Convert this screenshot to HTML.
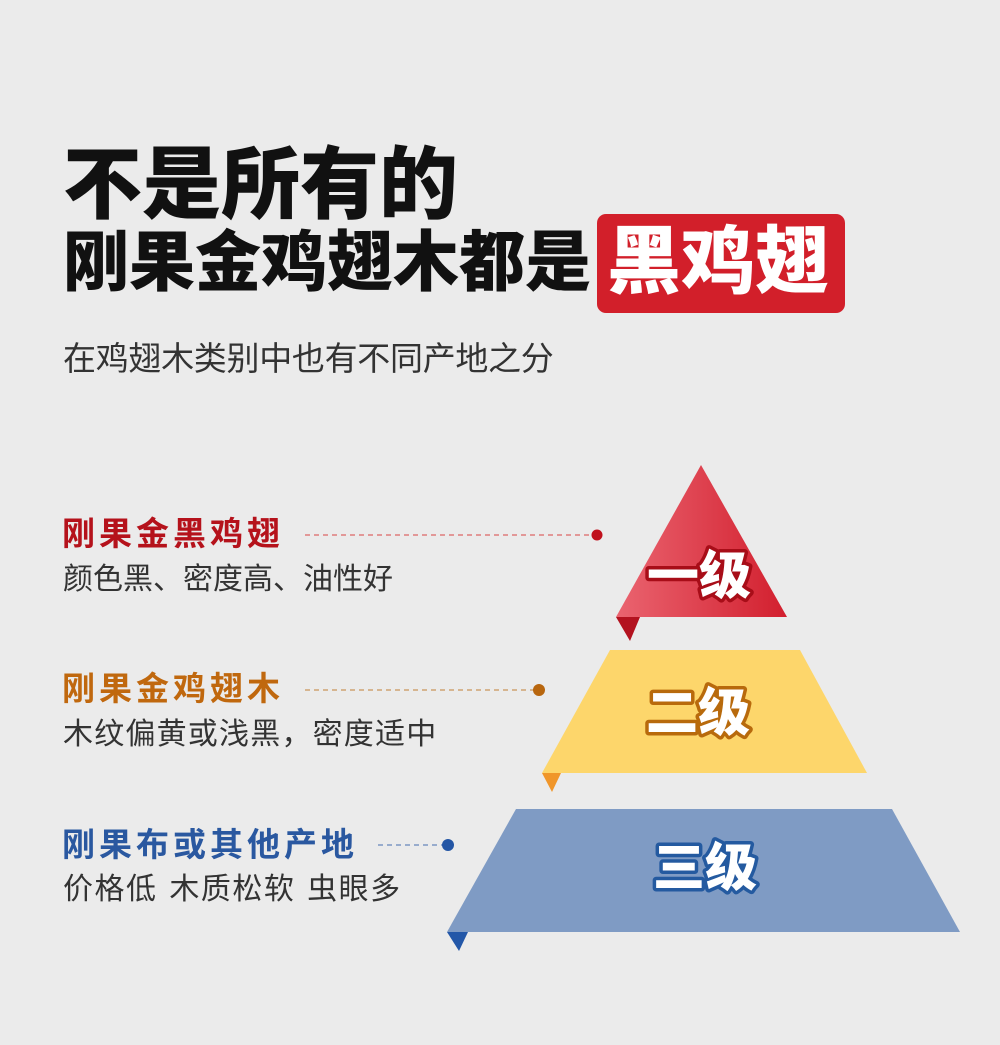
<!DOCTYPE html>
<html><head><meta charset="utf-8"><style>
html,body{margin:0;padding:0}
body{width:1000px;height:1045px;background:#ebebeb;position:relative;overflow:hidden;font-family:"Liberation Sans","Noto Sans CJK SC",sans-serif}
.t{position:absolute;white-space:nowrap;line-height:1}
</style></head><body>
<div class="t" style="left:63px;top:145px;font-size:79px;font-weight:900;color:#111;letter-spacing:0px">不是所有的</div>
<div class="t" style="left:63px;top:229px;font-size:66px;font-weight:900;color:#111">刚果金鸡翅木都是</div>
<div style="position:absolute;left:597px;top:214px;width:248px;height:99px;background:#d21f2a;border-radius:9px"></div>
<div class="t" style="left:607px;top:225px;font-size:74px;font-weight:900;color:#fff">黑鸡翅</div>
<div class="t" style="left:63px;top:342px;font-size:33px;color:#333;letter-spacing:-0.3px">在鸡翅木类别中也有不同产地之分</div>

<div class="t" style="left:62px;top:517px;font-size:33px;font-weight:bold;color:#b5121b;letter-spacing:4px">刚果金黑鸡翅</div>
<div class="t" style="left:63px;top:565px;font-size:30px;color:#333">颜色黑、密度高、油性好</div>
<div class="t" style="left:62px;top:672px;font-size:33px;font-weight:bold;color:#c0680e;letter-spacing:4px">刚果金鸡翅木</div>
<div class="t" style="left:63px;top:720px;font-size:30px;color:#333;letter-spacing:1.2px">木纹偏黄或浅黑，密度适中</div>
<div class="t" style="left:62px;top:828px;font-size:33px;font-weight:bold;color:#2a58a0;letter-spacing:4px">刚果布或其他产地</div>
<div class="t" style="left:63px;top:875px;font-size:30px;color:#333;letter-spacing:1.5px;word-spacing:2px">价格低 木质松软 虫眼多</div>

<svg width="1000" height="1045" style="position:absolute;left:0;top:0">
<defs><linearGradient id="rg" x1="0" x2="1"><stop offset="0" stop-color="#ea6470"/><stop offset="1" stop-color="#d21f2e"/></linearGradient></defs>
<line x1="305" y1="535" x2="592" y2="535" stroke="#d66" stroke-width="1.2" stroke-dasharray="5,4"/>
<circle cx="597" cy="535" r="5.5" fill="#c0101c"/>
<line x1="305" y1="690" x2="534" y2="690" stroke="#c9955a" stroke-width="1.2" stroke-dasharray="5,4"/>
<circle cx="539" cy="690" r="6" fill="#b8660e"/>
<line x1="378" y1="845" x2="443" y2="845" stroke="#6686bb" stroke-width="1.2" stroke-dasharray="5,4"/>
<circle cx="448" cy="845" r="6" fill="#2456a5"/>

<polygon points="701,465 787,617 616,617" fill="url(#rg)"/>
<polygon points="616,617 640,617 630,641" fill="#b3121f"/>
<polygon points="610,650 800,650 867,773 542,773" fill="#fdd66b"/>
<polygon points="542,773 561,773 552,792" fill="#f0962a"/>
<polygon points="516,809 892,809 960,932 447,932" fill="#7f9bc4"/>
<polygon points="447,932 468,932 459,951" fill="#2357a8"/>

<g font-family="Liberation Sans, Noto Sans CJK SC, sans-serif" font-weight="900" font-size="52" text-anchor="middle" fill="#fff" stroke-width="7" stroke-linejoin="round" style="paint-order:stroke">
<text x="699" y="594" stroke="#a80d18">一级</text>
<text x="698" y="731" stroke="#b86a0c">二级</text>
<text x="705" y="886" stroke="#245aa0">三级</text>
</g>
</svg>
</body></html>
